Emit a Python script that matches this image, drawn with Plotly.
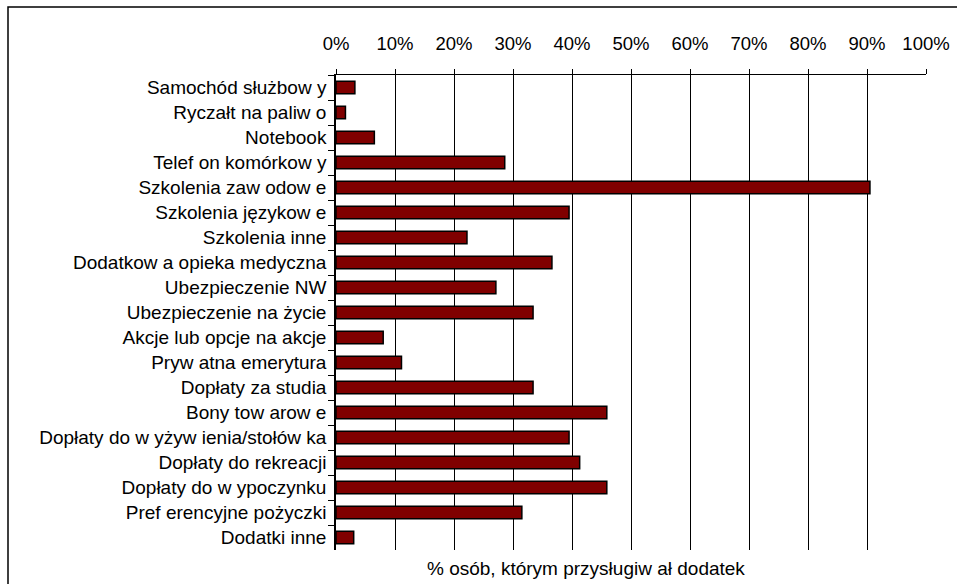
import plotly.graph_objects as go

categories = [
    "Samochód służbow y",
    "Ryczałt na paliw o",
    "Notebook",
    "Telef on komórkow y",
    "Szkolenia zaw odow e",
    "Szkolenia językow e",
    "Szkolenia inne",
    "Dodatkow a opieka medyczna",
    "Ubezpieczenie NW",
    "Ubezpieczenie na życie",
    "Akcje lub opcje na akcje",
    "Pryw atna emerytura",
    "Dopłaty za studia",
    "Bony tow arow e",
    "Dopłaty do w yżyw ienia/stołów ka",
    "Dopłaty do rekreacji",
    "Dopłaty do w ypoczynku",
    "Pref erencyjne pożyczki",
    "Dodatki inne",
]
values = [0.032, 0.016, 0.065, 0.286, 0.905, 0.395, 0.222, 0.366, 0.271, 0.334,
          0.080, 0.111, 0.334, 0.459, 0.395, 0.413, 0.459, 0.315, 0.030]
tick_vals = [0, 0.1, 0.2, 0.3, 0.4, 0.5, 0.6, 0.7, 0.8, 0.9, 1.0]
tick_text = ["0%", "10%", "20%", "30%", "40%", "50%", "60%", "70%", "80%", "90%", "100%"]
axis_title = "% osób, którym przysługiw ał dodatek"

FONT = "Liberation Sans, Arial, sans-serif"
FS = 19
FST = 18.5

fig = go.Figure(go.Bar(
    x=values, y=categories, orientation="h", width=0.5,
    marker=dict(color="#800000", line=dict(color="#000000", width=1.5)),
    hoverinfo="skip",
))

fig.update_layout(
    width=957, height=584,
    margin=dict(l=336, r=31, t=75, b=34),
    paper_bgcolor="white", plot_bgcolor="white",
    font=dict(family=FONT, size=FS, color="#000000"),
    showlegend=False,
)
fig.update_xaxes(
    side="top", range=[0, 1], tickvals=tick_vals, ticktext=tick_text,
    showgrid=True, gridcolor="#000000", gridwidth=1,
    showline=True, linecolor="#000000", linewidth=1,
    ticks="outside", ticklen=5, tickcolor="#000000",
    zeroline=False, ticklabelstandoff=12, automargin=False,
    tickfont=dict(family=FONT, size=FST, color="#000000"),
)
fig.update_yaxes(
    autorange="reversed", showline=True, linecolor="#000000", linewidth=1.5,
    ticks="outside", ticklen=6, tickcolor="#000000", tickson="boundaries",
    showgrid=False, zeroline=False, automargin=False, ticklabelstandoff=4,
    tickfont=dict(family=FONT, size=FS, color="#000000"),
)
fig.add_annotation(
    text=axis_title, xref="paper", yref="paper",
    x=(586 - 336) / 590, y=(550 - 568) / 475, showarrow=False,
    xanchor="center", yanchor="middle",
    font=dict(family=FONT, size=FS, color="#000000"),
)
fig.add_shape(
    type="rect", xref="paper", yref="paper",
    x0=(8 - 336) / 590, x1=(975 - 336) / 590,
    y0=(550 - 7) / 475, y1=(550 - 600) / 475,
    line=dict(color="#000000", width=1.5), fillcolor="rgba(0,0,0,0)", layer="below",
)

fig.write_html(
    "out.html",
    config={"displayModeBar": False},
    post_script="document.body.style.margin='0';document.body.style.overflow='hidden';",
)
